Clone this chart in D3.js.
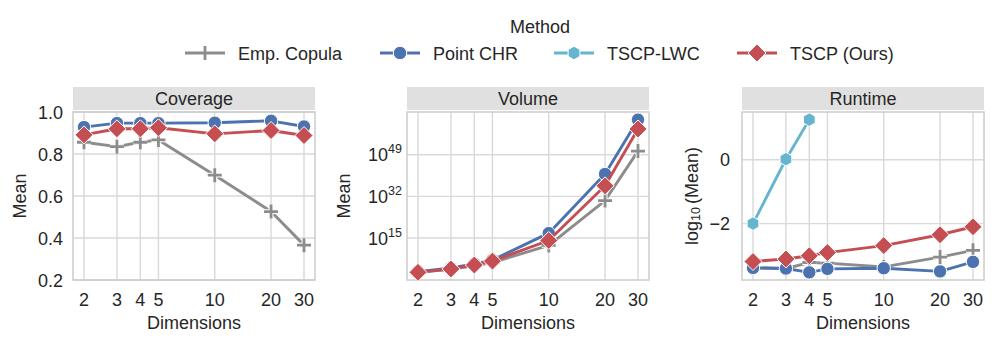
<!DOCTYPE html>
<html>
<head>
<meta charset="utf-8">
<script src="https://cdn.jsdelivr.net/npm/d3@7"></script>
<style>
  body { margin: 0; background: #fff; }
  text { font-family: "Liberation Sans", Arial, sans-serif; fill: #262626; }
</style>
</head>
<body>
<div id="chart"></div>
<script>
// x values shared by every panel
const dims = [2, 3, 4, 5, 10, 20, 30];
const methods = ["Emp. Copula", "Point CHR", "TSCP-LWC", "TSCP (Ours)"];

// Coverage (mean)
const coverageEmp = [0.856, 0.835, 0.856, 0.867, 0.699, 0.526, 0.366];
const coveragePoint = [0.928, 0.947, 0.947, 0.947, 0.949, 0.958, 0.931];
const coverageTscp = [0.891, 0.920, 0.920, 0.925, 0.896, 0.912, 0.888];

// Volume (mean, log axis)
const volumeEmp = [1e1, 2e2, 5e3, 1e5, 1e12, 2e30, 3e50];
const volumePoint = [2e1, 6e2, 3e4, 1e6, 1e17, 1.3e41, 2e63];
const volumeTscp = [1e1, 2.5e2, 1e4, 4e5, 1e14, 2e36, 3e59];

// Runtime, already log10(mean)
const runtimeEmp = [-3.39, -3.41, -3.22, -3.24, -3.36, -3.05, -2.84];
const runtimePoint = [-3.39, -3.41, -3.53, -3.42, -3.40, -3.50, -3.20];
const runtimeLwc = [-2.0, 0.02, 1.26, null, null, null, null];
const runtimeTscp = [-3.19, -3.11, -3.01, -2.91, -2.69, -2.35, -2.10];

const coverageTicks = [0.2, 0.4, 0.6, 0.8, 1.0];
const volumeTicks = [1e15, 1e32, 1e49];
const runtimeTicks = [-2, 0];

(function () {
  const colors = { "Emp. Copula": "#8c8c8c", "Point CHR": "#4c72b0", "TSCP-LWC": "#64b5cd", "TSCP (Ours)": "#c44e52" };
  const shapes = { "Emp. Copula": "plus", "Point CHR": "circle", "TSCP-LWC": "hexagon", "TSCP (Ours)": "diamond" };

  const W = 997, H = 345;
  const svg = d3.select("#chart").append("svg")
    .attr("width", W).attr("height", H)
    .style("background", "#fff");

  const panelW = 242, plotTop = 112, plotBottom = 280;

  function markerPath(shape) {
    if (shape === "diamond") { const r = 9; return `M0,${-r}L${r},0L0,${r}L${-r},0Z`; }
    if (shape === "hexagon") {
      const r = 6.8;
      return d3.range(6).map((k, i) => {
        const a = (-90 + 60 * k) * Math.PI / 180;
        return (i ? "L" : "M") + (r * Math.cos(a)).toFixed(2) + "," + (r * Math.sin(a)).toFixed(2);
      }).join("") + "Z";
    }
    if (shape === "plus") { const r = 7; return `M${-r},0H${r}M0,${-r}V${r}`; }
    return null;
  }

  function drawMarker(g, shape, color, x, y) {
    if (shape === "circle") {
      g.append("circle").attr("cx", x).attr("cy", y).attr("r", 6.7)
        .attr("fill", color).attr("stroke", "#fff").attr("stroke-width", 1);
    } else if (shape === "plus") {
      g.append("path").attr("d", markerPath(shape)).attr("transform", `translate(${x},${y})`)
        .attr("fill", "none").attr("stroke", "#fff").attr("stroke-width", 4.8);
      g.append("path").attr("d", markerPath(shape)).attr("transform", `translate(${x},${y})`)
        .attr("fill", "none").attr("stroke", color).attr("stroke-width", 2.8);
    } else {
      g.append("path").attr("d", markerPath(shape)).attr("transform", `translate(${x},${y})`)
        .attr("fill", color).attr("stroke", "#fff").attr("stroke-width", 1);
    }
  }

  const panels = [
    { title: "Coverage", left: 73, ylabel: "Mean", ylabelX: -53, tickPad: 10,
      y: d3.scaleLinear().domain([0.2, 1.0]).range([plotBottom, plotTop]),
      ticks: coverageTicks, fmt: d => d3.format(".1f")(d),
      series: [["Emp. Copula", coverageEmp], ["Point CHR", coveragePoint], ["TSCP (Ours)", coverageTscp]] },
    { title: "Volume", left: 407, ylabel: "Mean", ylabelX: -63, tickPad: 5, log: true,
      ticks: volumeTicks,
      series: [["Emp. Copula", volumeEmp], ["Point CHR", volumePoint], ["TSCP (Ours)", volumeTscp]] },
    { title: "Runtime", left: 742, ylabel: "log10", ylabelX: -50, tickPad: 12,
      ticks: runtimeTicks, fmt: d => d3.format("d")(d).replace("-", "\u2212"),
      series: [["Emp. Copula", runtimeEmp], ["Point CHR", runtimePoint], ["TSCP-LWC", runtimeLwc], ["TSCP (Ours)", runtimeTscp]] }
  ];

  // matplotlib style 5% margins
  function padded(lo, hi) { const m = (hi - lo) * 0.05; return [lo - m, hi + m]; }

  panels.forEach(p => {
    const xd = padded(Math.log10(d3.min(dims)), Math.log10(d3.max(dims)));
    const x = d3.scaleLog().domain([10 ** xd[0], 10 ** xd[1]]).range([p.left, p.left + panelW]);
    if (!p.y) {
      const all = p.series.flatMap(s => s[1]).filter(v => v != null);
      if (p.log) {
        const yd = padded(Math.log10(d3.min(all)), Math.log10(d3.max(all)));
        p.y = d3.scaleLog().domain([10 ** yd[0], 10 ** yd[1]]).range([plotBottom, plotTop]);
      } else {
        p.y = d3.scaleLinear().domain(padded(d3.min(all), d3.max(all))).range([plotBottom, plotTop]);
      }
    }
    const y = p.y;
    const g = svg.append("g");

    // grid
    g.selectAll(".vg").data(dims).join("line")
      .attr("x1", d => x(d)).attr("x2", d => x(d)).attr("y1", plotTop).attr("y2", plotBottom)
      .attr("stroke", "#d9d9d9").attr("stroke-width", 1.4);
    g.selectAll(".hg").data(p.ticks).join("line")
      .attr("x1", p.left).attr("x2", p.left + panelW).attr("y1", d => y(d)).attr("y2", d => y(d))
      .attr("stroke", "#d9d9d9").attr("stroke-width", 1.4);

    // frame
    g.append("rect").attr("x", p.left).attr("y", plotTop).attr("width", panelW).attr("height", plotBottom - plotTop)
      .attr("fill", "none").attr("stroke", "#cccccc").attr("stroke-width", 1.5);

    // strip title
    g.append("rect").attr("x", p.left).attr("y", 87).attr("width", panelW).attr("height", 23)
      .attr("fill", "#e0e0e0");
    g.append("text").attr("x", p.left + panelW / 2).attr("y", 104.5)
      .attr("text-anchor", "middle").attr("font-size", 18).text(p.title);

    // x ticks
    g.selectAll(".xt").data(dims).join("text")
      .attr("x", d => x(d)).attr("y", 306).attr("text-anchor", "middle").attr("font-size", 18)
      .text(d => d);
    g.append("text").attr("x", p.left + panelW / 2).attr("y", 329)
      .attr("text-anchor", "middle").attr("font-size", 18).text("Dimensions");

    // y ticks
    p.ticks.forEach(t => {
      const tx = g.append("text").attr("x", p.left - p.tickPad).attr("y", y(t) + 6.5)
        .attr("text-anchor", "end").attr("font-size", 18);
      if (p.log) {
        tx.append("tspan").text("10");
        tx.append("tspan").attr("font-size", 12.5).attr("dy", -8).text(Math.round(Math.log10(t)));
      } else {
        tx.text(p.fmt(t));
      }
    });

    // y label
    const yl = g.append("text")
      .attr("transform", `translate(${p.left + p.ylabelX},${(plotTop + plotBottom) / 2}) rotate(-90)`)
      .attr("text-anchor", "middle").attr("dominant-baseline", "central").attr("font-size", 18);
    if (p.ylabel === "log10") {
      yl.append("tspan").text("log");
      yl.append("tspan").attr("font-size", 12.5).attr("dy", 4).text("10");
      yl.append("tspan").attr("dy", -4).attr("dx", 3).text("(Mean)");
    } else {
      yl.text(p.ylabel);
    }

    // series
    const line = d3.line().defined(d => d[1] != null).x(d => x(d[0])).y(d => y(d[1]));
    p.series.forEach(([name, vals]) => {
      const pts = dims.map((d, i) => [d, vals[i]]);
      g.append("path").datum(pts).attr("d", line)
        .attr("fill", "none").attr("stroke", colors[name]).attr("stroke-width", 2.9)
        .attr("stroke-linejoin", "round");
      pts.filter(d => d[1] != null).forEach(d => drawMarker(g, shapes[name], colors[name], x(d[0]), y(d[1])));
    });
  });

  // legend
  svg.append("text").attr("x", 540).attr("y", 33).attr("text-anchor", "middle")
    .attr("font-size", 18).text("Method");
  const legendX = [205, 400, 574, 757];
  methods.forEach((m, i) => {
    const lg = svg.append("g");
    lg.append("line").attr("x1", legendX[i] - 20).attr("x2", legendX[i] + 20)
      .attr("y1", 53).attr("y2", 53).attr("stroke", colors[m]).attr("stroke-width", 2.9);
    drawMarker(lg, shapes[m], colors[m], legendX[i], 53);
    lg.append("text").attr("x", legendX[i] + 33).attr("y", 59.5).attr("font-size", 18).text(m);
  });
})();
</script>
</body>
</html>
